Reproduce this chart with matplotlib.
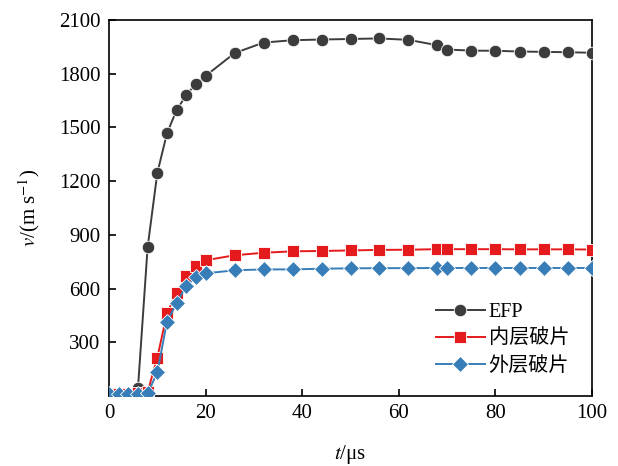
import matplotlib
matplotlib.use("Agg")
import matplotlib.pyplot as plt

plt.rcParams['font.family'] = ['Liberation Serif', 'Noto Sans CJK SC']
plt.rcParams['mathtext.fontset'] = 'stix'

# time points (us)
t_efp = [0, 2, 4, 6, 8, 10, 12, 14, 16, 18, 20, 26, 32, 38, 44, 50, 56, 62, 68, 70,
         75, 80, 85, 90, 95, 100]
v_efp = [5, 5, 8, 45, 832, 1245, 1467, 1597, 1681, 1744, 1788, 1915, 1974, 1987, 1991,
         1994, 1997, 1989, 1959, 1935, 1929, 1928, 1924, 1922, 1920, 1917]

t_frag = [0, 2, 4, 6, 8, 10, 12, 14, 16, 18, 20, 26, 32, 38, 44, 50, 56, 62, 68, 70,
          75, 80, 85, 90, 95, 100]
v_inner = [12, 12, 12, 14, 22, 214, 461, 578, 668, 728, 758, 786, 800, 808, 810, 813,
           816, 817, 820, 820, 820, 820, 819, 819, 819, 818]
v_outer = [12, 12, 12, 12, 14, 132, 414, 518, 617, 663, 685, 702, 707, 707, 711, 713,
           714, 714, 715, 715, 715, 715, 715, 715, 715, 715]

labels = ['EFP', '内层破片', '外层破片']

fig = plt.figure(figsize=(6.18, 4.66), dpi=100)
ax = fig.add_axes([109 / 618, 70 / 466, 483 / 618, 376 / 466])

ax.plot(t_efp, v_efp, '-o', color='#3c3c3c', lw=1.4, ms=9,
        mec='white', mew=0.6, label=labels[0], zorder=3)
ax.plot(t_frag, v_inner, '-s', color='#e41a1c', lw=1.4, ms=8.2,
        mec='white', mew=0.6, label=labels[1], zorder=4)
ax.plot(t_frag, v_outer, '-D', color='#377eb8', lw=1.4, ms=8.2,
        mec='white', mew=0.6, label=labels[2], zorder=5)

ax.set_xlim(0, 100)
ax.set_ylim(0, 2100)
ax.set_xticks([0, 20, 40, 60, 80, 100])
ax.set_yticks([300, 600, 900, 1200, 1500, 1800, 2100])
ax.tick_params(direction='in', labelsize=15, length=5, width=1.2,
               top=False, right=False, pad=6)
for s in ax.spines.values():
    s.set_linewidth(1.2)

ax.set_xlabel(r'$\mathit{t}$/μs', fontsize=15, labelpad=14)
ax.set_ylabel(r'$\mathit{v}$/(m s$^{-1}$)', fontsize=15, labelpad=12)

leg = ax.legend(loc='lower right', bbox_to_anchor=(0.99, 0.005), frameon=False,
                fontsize=14.5, handlelength=2.4, labelspacing=0.4,
                handletextpad=0.2)

fig.savefig('out.png', dpi=100)
